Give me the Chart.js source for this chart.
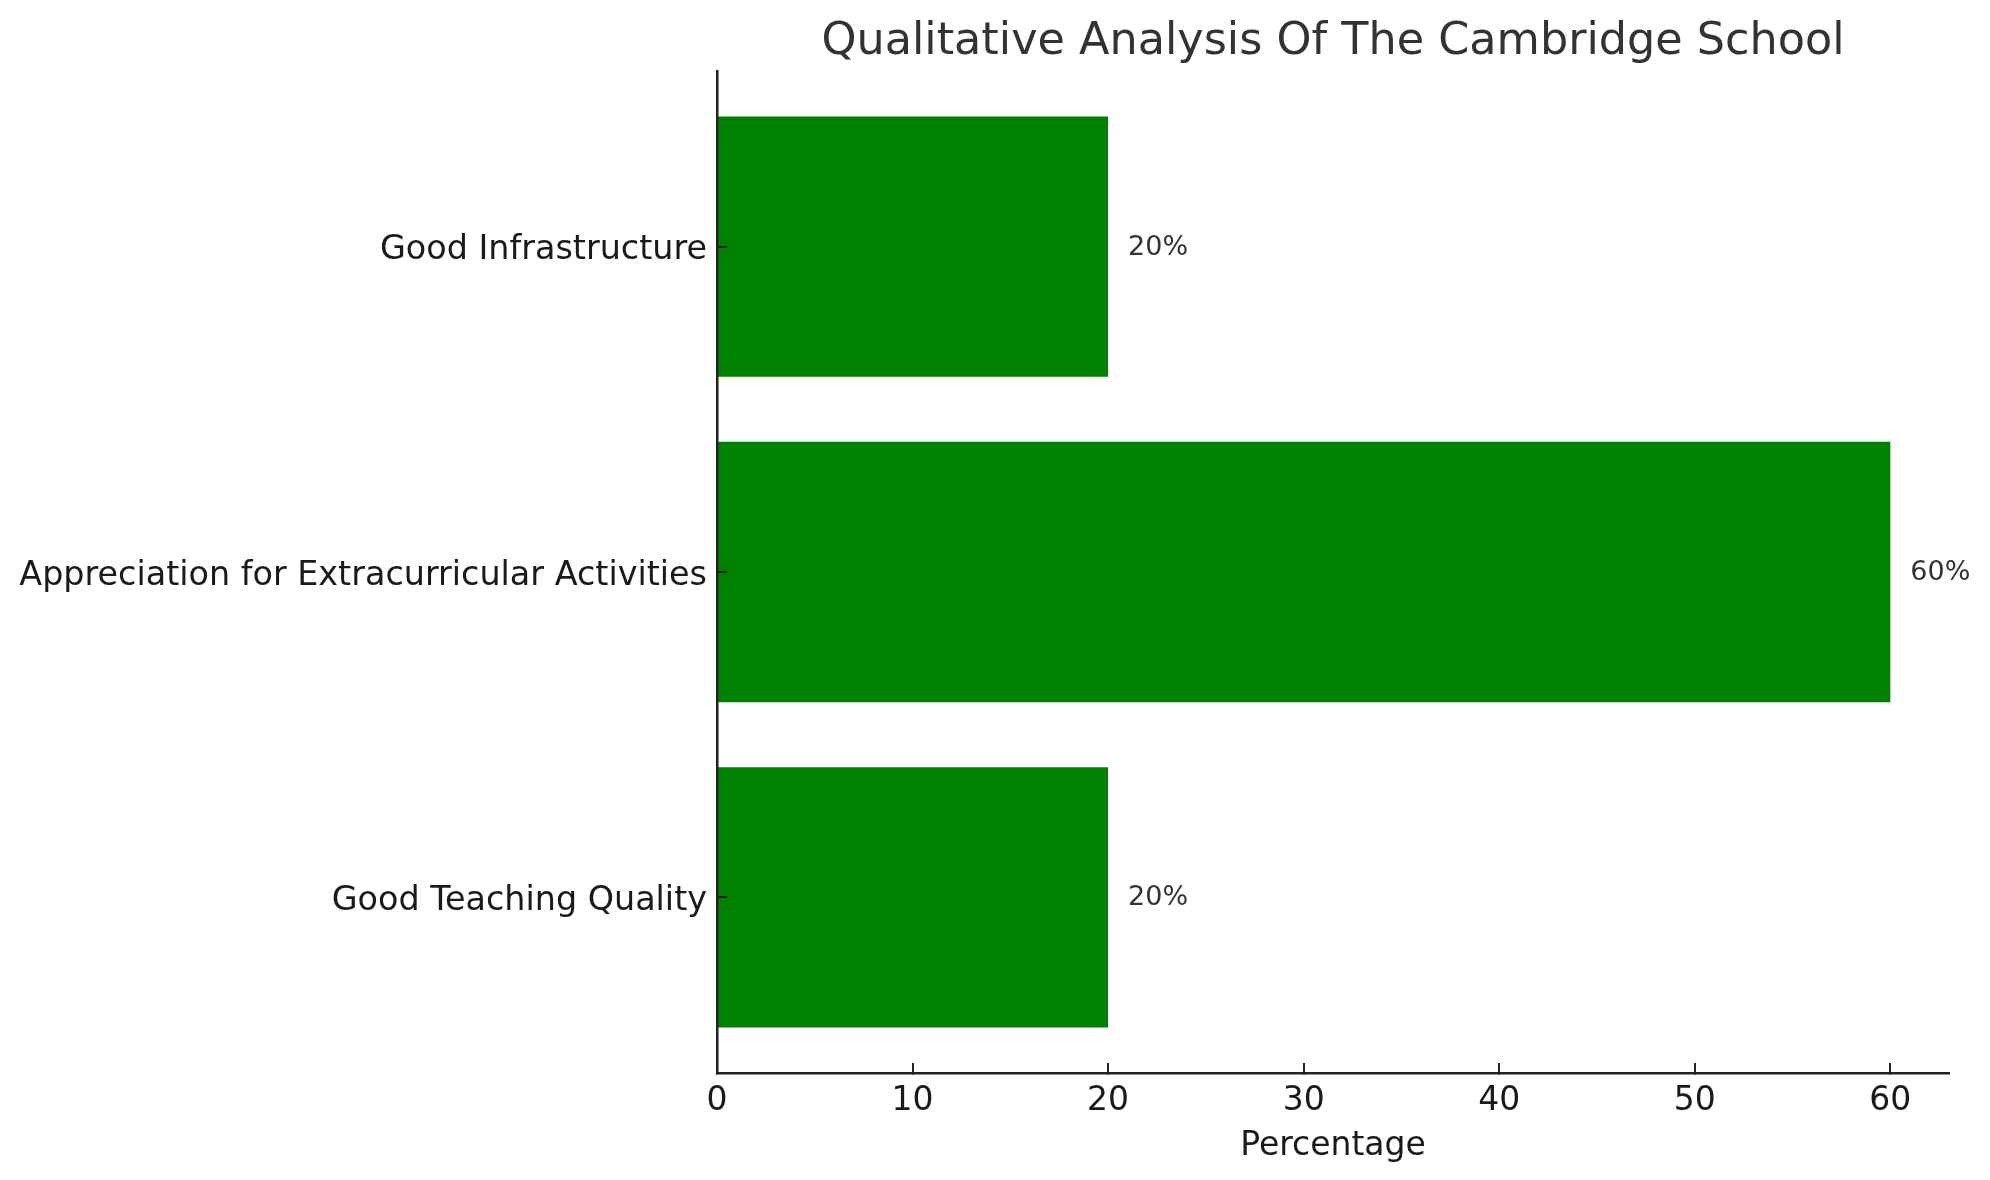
<!DOCTYPE html>
<html>
<head>
<meta charset="utf-8">
<title>Qualitative Analysis Of The Cambridge School</title>
<script src="https://cdn.jsdelivr.net/npm/chart.js@4.4.1/dist/chart.umd.min.js"></script>
<style>
  html, body { margin: 0; padding: 0; background: #ffffff; }
  canvas { display: block; }
</style>
</head>
<body>
<canvas id="myChart" width="1990" height="1180" style="width:1990px;height:1180px"></canvas>
<script>
//* datos del grafico (de abajo hacia arriba, como en el original)
const categorias = ["Good Teaching Quality", "Appreciation for Extracurricular Activities", "Good Infrastructure"];
const porcentajes = [20, 60, 20];
const ticksX = [0, 10, 20, 30, 40, 50, 60];
const titulo = "Qualitative Analysis Of The Cambridge School";
const tituloEjeX = "Percentage";

const fuente = "'DejaVu Sans', 'Noto Sans', sans-serif";

//* plugin para escribir el porcentaje al lado de cada barra
const etiquetasBarras = {
  id: "etiquetasBarras",
  afterDatasetsDraw(chart) {
    const ctx = chart.ctx;
    const meta = chart.getDatasetMeta(0);
    ctx.save();
    ctx.font = "27px " + fuente;
    ctx.fillStyle = "#333333";
    ctx.textAlign = "left";
    ctx.textBaseline = "middle";
    meta.data.forEach((barra, i) => {
      ctx.fillText(porcentajes[i] + "%", barra.x + 20, barra.y + 1);
    });
    ctx.restore();
  }
};

function configGrafica() {
  const config = {
    type: "bar",
    data: {
      datasets: [
        {
          label: tituloEjeX,
          data: porcentajes.map((v, i) => ({ x: v, y: i })),
          backgroundColor: "#008000",
          borderWidth: 0,
          categoryPercentage: 1,
          barPercentage: 0.8,
        },
      ],
    },
    options: {
      indexAxis: "y",
      responsive: false,
      devicePixelRatio: 1,
      animation: false,
      events: [],
      layout: { padding: { top: 0, left: 0, right: 41, bottom: 0 } },
      plugins: {
        legend: { display: false },
        tooltip: { enabled: false },
        title: {
          display: true,
          text: titulo,
          fullSize: false,
          color: "#333333",
          font: { family: fuente, size: 44.5, weight: "normal" },
          padding: { top: 16, bottom: 1.6 },
        },
      },
      scales: {
        x: {
          type: "linear",
          position: "bottom",
          min: 0,
          max: 63,
          afterFit(scale) { scale.height = 107; },
          afterBuildTicks(scale) { scale.ticks = ticksX.map((v) => ({ value: v })); },
          ticks: {
            includeBounds: false,
            padding: 19,
            color: "#1a1a1a",
            font: { family: fuente, size: 33 },
          },
          grid: {
            z: 1,
            drawOnChartArea: false,
            drawTicks: true,
            tickLength: -10,
            color: "#222222",
            lineWidth: 2,
          },
          border: { display: true, color: "#222222", width: 2.5, z: 1 },
          title: {
            display: true,
            text: tituloEjeX,
            color: "#1a1a1a",
            font: { family: fuente, size: 33 },
            padding: { top: 0, bottom: 14 },
          },
        },
        y: {
          type: "linear",
          position: "left",
          offset: false,
          min: -0.54,
          max: 2.54,
          afterFit(scale) { scale.width = 717; },
          afterBuildTicks(scale) { scale.ticks = categorias.map((c, i) => ({ value: i })); },
          ticks: {
            padding: 20,
            labelOffset: 4,
            color: "#1a1a1a",
            font: { family: fuente, size: 33.4 },
            callback: (valor) => categorias[valor],
          },
          grid: {
            z: 1,
            offset: false,
            drawOnChartArea: false,
            drawTicks: true,
            tickLength: -10,
            color: "#222222",
            lineWidth: 2,
          },
          border: { display: true, color: "#222222", width: 2.5, z: 1 },
        },
      },
    },
    plugins: [etiquetasBarras],
  };
  return config;
}

const chartDOM = document.getElementById("myChart");
new Chart(chartDOM, configGrafica());
</script>
</body>
</html>
